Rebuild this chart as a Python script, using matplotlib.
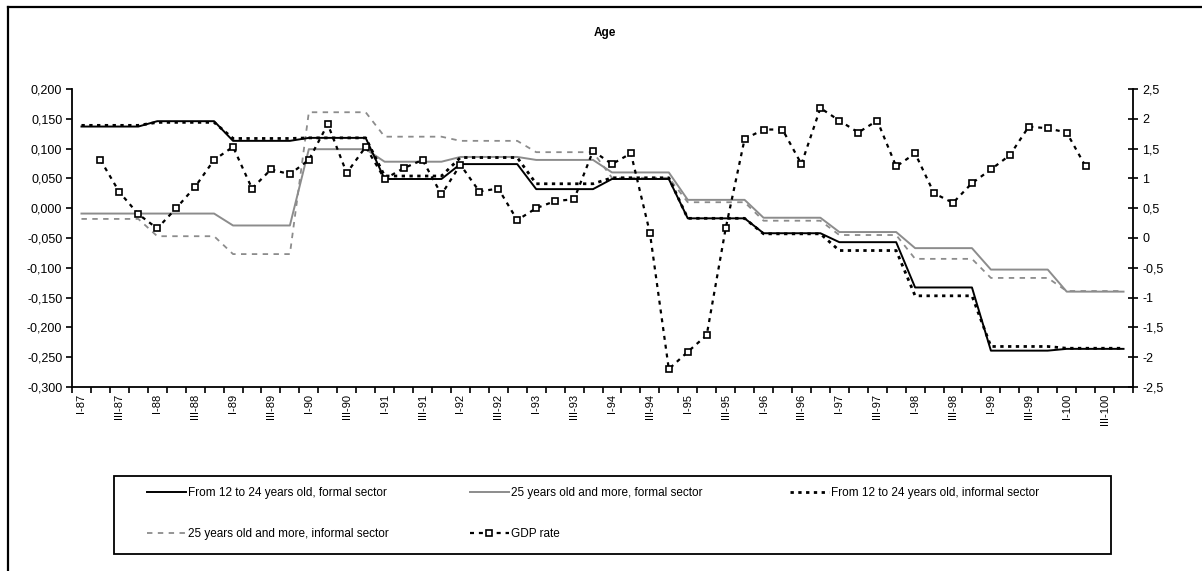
import matplotlib

matplotlib.use('Agg')
import matplotlib.pyplot as plt
import matplotlib.lines as mlines
from matplotlib.patches import Rectangle
from matplotlib.ticker import FuncFormatter
import numpy as np

plt.rcParams['font.family'] = ['Liberation Sans', 'DejaVu Sans']

W, H = 1202, 571

# quarters I-87 .. IV-100
years = [str(y) for y in range(87, 101)]
quarters = [f'{q}-{y}' for y in years for q in ('I', 'II', 'III', 'IV')]
tick_labels = quarters[::2]

# From 12 to 24 years old, formal sector
young_formal = [
    0.137, 0.137, 0.137, 0.137, 0.146, 0.146, 0.146, 0.146,
    0.113, 0.113, 0.113, 0.113, 0.118, 0.118, 0.118, 0.118,
    0.049, 0.049, 0.049, 0.049, 0.074, 0.074, 0.074, 0.074,
    0.032, 0.032, 0.032, 0.032, 0.049, 0.049, 0.049, 0.049,
    -0.017, -0.017, -0.017, -0.017, -0.042, -0.042, -0.042, -0.042,
    -0.057, -0.057, -0.057, -0.057, -0.133, -0.133, -0.133, -0.133,
    -0.239, -0.239, -0.239, -0.239, -0.236, -0.236, -0.236, -0.236,
]

# 25 years old and more, formal sector
adult_formal = [
    -0.009, -0.009, -0.009, -0.009, -0.009, -0.009, -0.009, -0.009,
    -0.029, -0.029, -0.029, -0.029, 0.099, 0.099, 0.099, 0.099,
    0.078, 0.078, 0.078, 0.078, 0.086, 0.086, 0.086, 0.086,
    0.081, 0.081, 0.081, 0.081, 0.060, 0.060, 0.060, 0.060,
    0.014, 0.014, 0.014, 0.014, -0.016, -0.016, -0.016, -0.016,
    -0.040, -0.040, -0.040, -0.040, -0.067, -0.067, -0.067, -0.067,
    -0.103, -0.103, -0.103, -0.103, -0.140, -0.140, -0.140, -0.140,
]

# From 12 to 24 years old, informal sector
young_informal = [
    0.139, 0.139, 0.139, 0.139, 0.144, 0.144, 0.144, 0.144,
    0.117, 0.117, 0.117, 0.117, 0.118, 0.118, 0.118, 0.118,
    0.054, 0.054, 0.054, 0.054, 0.085, 0.085, 0.085, 0.085,
    0.041, 0.041, 0.041, 0.041, 0.051, 0.051, 0.051, 0.051,
    -0.017, -0.017, -0.017, -0.017, -0.043, -0.043, -0.043, -0.043,
    -0.071, -0.071, -0.071, -0.071, -0.147, -0.147, -0.147, -0.147,
    -0.232, -0.232, -0.232, -0.232, -0.235, -0.235, -0.235, -0.235,
]

# 25 years old and more, informal sector
adult_informal = [
    -0.018, -0.018, -0.018, -0.018, -0.047, -0.047, -0.047, -0.047,
    -0.077, -0.077, -0.077, -0.077, 0.161, 0.161, 0.161, 0.161,
    0.120, 0.120, 0.120, 0.120, 0.113, 0.113, 0.113, 0.113,
    0.094, 0.094, 0.094, 0.094, 0.051, 0.051, 0.051, 0.051,
    0.010, 0.010, 0.010, 0.010, -0.021, -0.021, -0.021, -0.021,
    -0.045, -0.045, -0.045, -0.045, -0.085, -0.085, -0.085, -0.085,
    -0.117, -0.117, -0.117, -0.117, -0.139, -0.139, -0.139, -0.139,
]

# GDP rate (right axis)
gdp_rate = [
    None, 1.31, 0.77, 0.40, 0.16, 0.50, 0.86, 1.31,
    1.53, 0.83, 1.15, 1.07, 1.31, 1.91, 1.09, 1.53,
    0.99, 1.17, 1.31, 0.73, 1.23, 0.78, 0.83, 0.30,
    0.50, 0.62, 0.65, 1.46, 1.24, 1.42, 0.09, -2.20,
    -1.91, -1.63, 0.16, 1.66, 1.82, 1.82, 1.24, 2.18,
    1.97, 1.77, 1.97, 1.20, 1.42, 0.75, 0.59, 0.92,
    1.15, 1.39, 1.87, 1.84, 1.77, 1.20, None, None,
]

x = np.arange(len(quarters))
gdp = np.array(gdp_rate, dtype=float)

fig = plt.figure(figsize=(W / 100, H / 100), dpi=100)
ax = fig.add_axes([72 / W, 1 - 387 / H, (1133 - 72) / W, (387 - 89) / H])
ax2 = ax.twinx()

# series
s_yf = dict(color='black', lw=1.4, ls='-')
s_af = dict(color='#8c8c8c', lw=1.4, ls='-')
s_yi = dict(color='black', lw=2.0, ls=(0, (1.2, 1.6)))
s_ai = dict(color='#8c8c8c', lw=1.3, ls=(0, (3, 3)))
s_gdp = dict(color='black', lw=1.6, ls=(0, (1.8, 2.2)), marker='s',
             markersize=5, markerfacecolor='white', markeredgecolor='black',
             markeredgewidth=1.2)

ax.plot(x, adult_informal, **s_ai)
ax.plot(x, adult_formal, **s_af)
ax.plot(x, young_formal, **s_yf)
ax.plot(x, young_informal, **s_yi)
ax2.plot(x, gdp, **s_gdp)

# axes
ax.set_xlim(-0.5, len(x) - 0.5)
ax.set_ylim(-0.3, 0.2)
ax2.set_ylim(-2.5, 2.5)

ax.set_xticks(np.arange(-0.5, len(x), 1))
ax.set_xticklabels([])
ax.set_xticks(x[::2], minor=True)
ax.set_xticklabels(tick_labels, minor=True, rotation=90, fontsize=8)
ax.tick_params(axis='x', which='major', length=4, width=1.2, direction='out')
ax.tick_params(axis='x', which='minor', length=0, pad=5)

ax.set_yticks(np.round(np.arange(-0.3, 0.201, 0.05), 3))
ax.yaxis.set_major_formatter(
    FuncFormatter(lambda v, p: f'{round(v, 3) + 0.0:.3f}'.replace('.', ',')))
ax.tick_params(axis='y', length=4, width=1.2, labelsize=9, pad=3)

ax2.set_yticks(np.round(np.arange(-2.5, 2.51, 0.5), 1))
ax2.yaxis.set_major_formatter(
    FuncFormatter(lambda v, p: f'{round(v, 1) + 0.0:g}'.replace('.', ',')))
ax2.tick_params(axis='y', length=7, width=1.2, direction='inout',
                labelsize=9, pad=3)

for s in ('top', 'right'):
  ax.spines[s].set_visible(False)
for s in ('top', 'left', 'bottom'):
  ax2.spines[s].set_visible(False)
for s in ('left', 'bottom'):
  ax.spines[s].set_linewidth(1.3)
ax2.spines['right'].set_linewidth(1.3)

fig.text(605 / W, 1 - 33 / H, 'Age', ha='center', va='center',
         fontsize=8.5, fontweight='bold')

# legend (three columns, row-wise order)
h_yf = mlines.Line2D([], [], **s_yf)
h_af = mlines.Line2D([], [], **s_af)
h_yi = mlines.Line2D([], [], **s_yi)
h_ai = mlines.Line2D([], [], **s_ai)
h_gdp = mlines.Line2D([], [], **s_gdp)

columns = [
    (147, [h_yf, h_ai], ['From 12 to 24 years old, formal sector',
                         '25 years old and more, informal sector']),
    (470, [h_af, h_gdp], ['25 years old and more, formal sector', 'GDP rate']),
    (790, [h_yi], ['From 12 to 24 years old, informal sector']),
]
for cx, hs, labs in columns:
  fig.legend(handles=hs, labels=labs, loc='upper left',
             bbox_to_anchor=(cx / W, 1 - 487 / H), frameon=False,
             fontsize=8.5, borderpad=0, borderaxespad=0, handlelength=3.3,
             handletextpad=0.2, labelspacing=2.45, numpoints=1)

fig.add_artist(Rectangle((114 / W, 1 - 554 / H), 997 / W, 78 / H,
                         transform=fig.transFigure, fill=False,
                         edgecolor='black', lw=1.3))

# outer chart border (left and top only visible)
fig.add_artist(mlines.Line2D([8 / W, 8 / W], [0, 1 - 7 / H],
                             transform=fig.transFigure, color='black', lw=1.6))
fig.add_artist(mlines.Line2D([8 / W, 1], [1 - 7 / H, 1 - 7 / H],
                             transform=fig.transFigure, color='black', lw=1.6))

fig.savefig('out.png', dpi=100)
plt.close()
